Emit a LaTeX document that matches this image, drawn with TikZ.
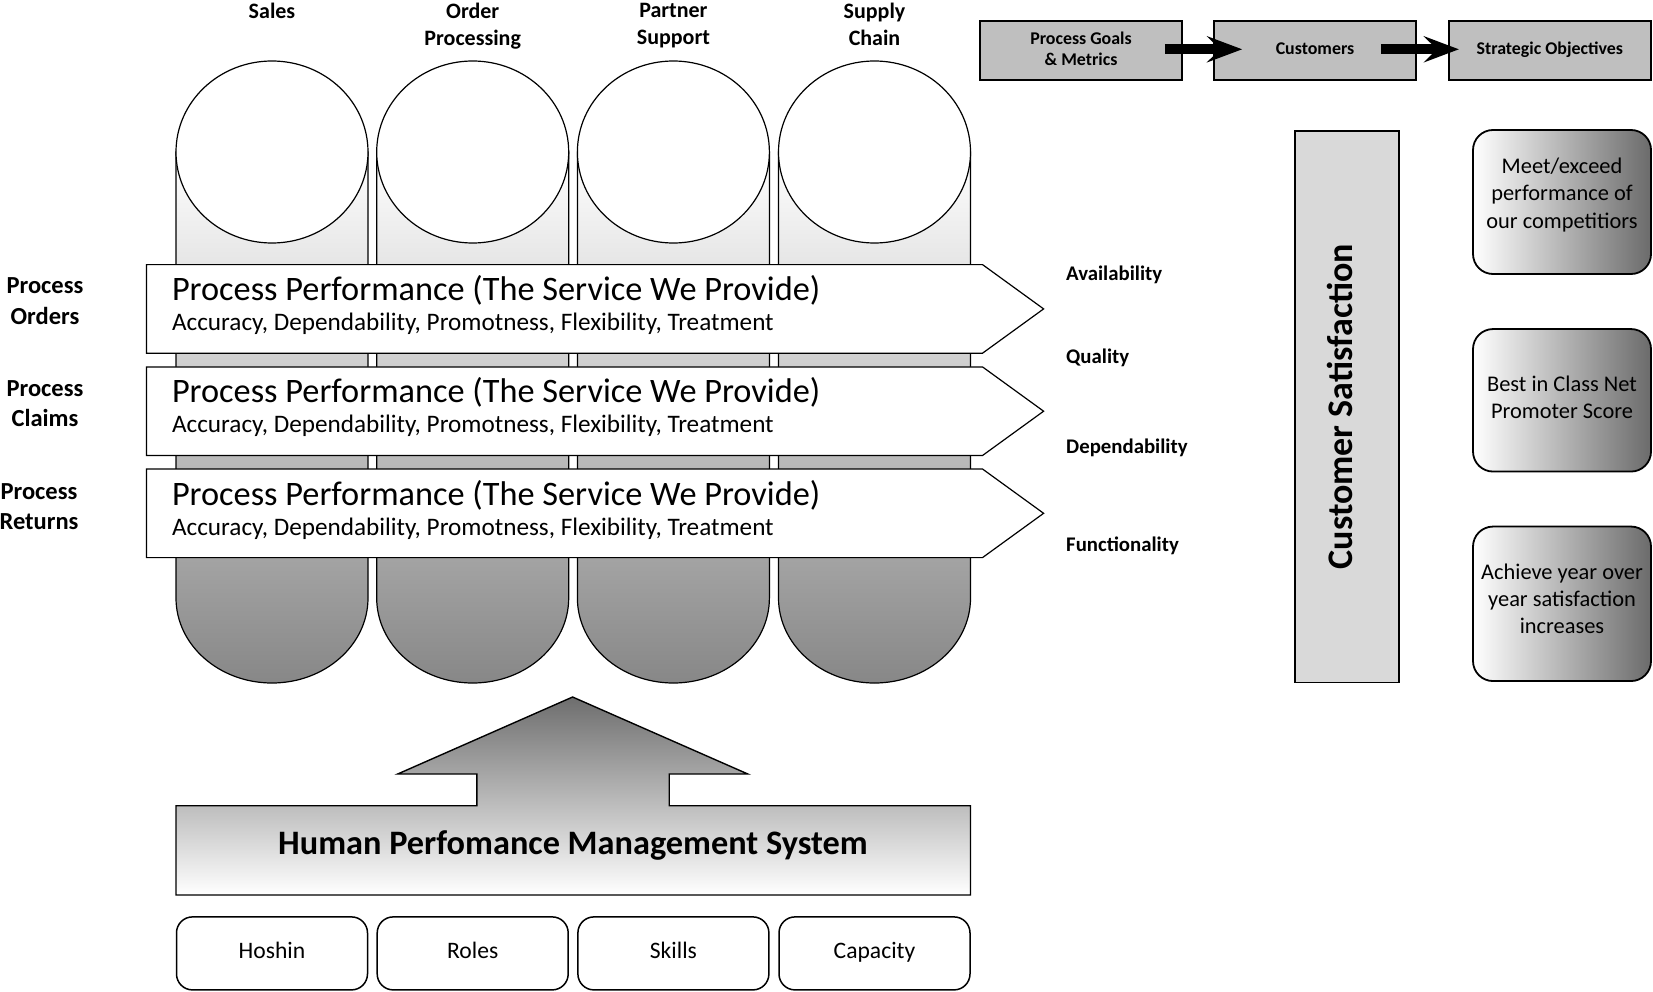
\documentclass[tikz,border=0pt]{standalone}
\usepackage{fontspec}
\setmainfont{Carlito}
\usetikzlibrary{arrows.meta,calc,positioning,shapes.geometric}
\newcommand\fsz[2]{\fontsize{#1}{#2}\selectfont}
\tikzset{>=Stealth,x=1pt,y=-1pt,
  colhead/.style={font=\fsz{22}{27}\bfseries,align=center,anchor=north,inner sep=0},
  rowhead/.style={font=\fsz{24.5}{30.5}\bfseries,align=center,anchor=north,inner sep=0},
  dimlbl/.style={font=\fsz{20.8}{24}\bfseries,anchor=base west,inner sep=0},
  pillar/.style={draw,line width=1.2pt,top color=white,bottom color=black!47},
  pillarcap/.style={ellipse,draw,line width=1.2pt,fill=white,minimum width=192,minimum height=182,inner sep=0},
  perf/.style={draw,line width=1.2pt,fill=white},
  perftitle/.style={font=\fsz{34.3}{40},anchor=base west,inner sep=0},
  perfsub/.style={font=\fsz{25.2}{30},anchor=base west,inner sep=0},
  goalbox/.style={draw,line width=1.8pt,fill=black!25,minimum width=202,minimum height=59,inner sep=0,align=center,font=\fsz{17.9}{21}\bfseries},
  block/.style={line width=10pt,-{Stealth[length=35pt,width=26pt,inset=13pt]}},
  objbox/.style={draw,line width=1.8pt,rounded corners=20,left color=white,right color=black!58,minimum width=178,align=center,font=\fsz{22.4}{27.4}},
  basebox/.style={draw,line width=1.5pt,rounded corners=16,fill=white,minimum width=191,minimum height=73,text depth=6pt,font=\fsz{23.6}{28}}}
\begin{document}
\begin{tikzpicture}
\useasboundingbox (0,0) rectangle (1653,992);
% pillars with caps and headers
\foreach \x/\n/\t in {272/sales/Sales,472.7/order/{Order\\Processing},673.4/partner/{Partner\\Support},874.5/supply/{Supply\\Chain}}{
  \draw[pillar] (\x-96,152) -- (\x-96,598) arc[start angle=180,end angle=360,x radius=96pt,y radius=85pt] -- (\x+96,152) -- cycle;
  \node[pillarcap] (cap-\n) at (\x,152) {};
  \node[colhead] (hd-\n) at (\x,3) {\t};}
% process performance arrows
\foreach \y/\n in {264.6/orders,366.9/claims,469/returns}{
  \draw[perf] (146.5,\y) -- (982.5,\y) -- (1043.6,\y+44.3) -- (982.5,\y+88.6) -- (146.5,\y+88.6) -- cycle;
  \node[perftitle] (pt-\n) at (171.8,\y+36) {Process Performance (The Service We Provide)};
  \node[perfsub] (ps-\n) at (171.8,\y+66) {Accuracy, Dependability, Promotness, Flexibility, Treatment};}
\node[rowhead] (rh-orders) at (45,277.5) {Process\\Orders};
\node[rowhead] (rh-claims) at (45,380) {Process\\Claims};
\node[rowhead] (rh-returns) at (39,483) {Process\\Returns};
\node[dimlbl] (avail) at (1066,280.7) {Availability};
\node[dimlbl] (qual) at (1066,363) {Quality};
\node[dimlbl] (depend) at (1066,453) {Dependability};
\node[dimlbl] (funct) at (1066,551.7) {Functionality};
% goals chain
\node[goalbox,text depth=4pt] (goals) at (1081,50.3) {Process Goals\\\& Metrics};
\node[goalbox,text depth=3pt] (cust) at (1315,50.3) {Customers};
\node[goalbox,text depth=4pt] (strat) at (1549.8,50.3) {Strategic Objectives};
\draw[block] ([xshift=-18,yshift=1]goals.east) -- ([xshift=29,yshift=1]cust.west);
\draw[block] ([xshift=-36,yshift=1]cust.east) -- ([xshift=11,yshift=1]strat.west);
\node[draw,line width=1.8pt,fill=black!15,rotate=90,minimum width=551.7,minimum height=104.4,text depth=14pt,font=\fsz{36}{40}\bfseries] (csat) at (1346.8,406.7) {Customer Satisfaction};
\node[objbox,minimum height=144,text depth=18pt] (obj1) at (1562,202) {Meet/exceed\\performance of\\our competitiors};
\node[objbox,minimum height=142.5,text depth=6pt] (obj2) at (1562,400.3) {Best in Class Net\\Promoter Score};
\node[objbox,minimum height=154.5,text depth=10pt] (obj3) at (1562,603.8) {Achieve year over\\year satisfaction\\increases};
% human performance base
\draw[line width=1.4pt,top color=black!57,bottom color=white] (176,805.7) -- (476.8,805.7) -- (476.8,774) -- (397.7,774) -- (572.6,697) -- (747.8,774) -- (669.2,774) -- (669.2,805.7) -- (970.5,805.7) -- (970.5,895) -- (176,895) -- cycle;
\node[font=\fsz{34.3}{38}\bfseries,anchor=base,inner sep=0] (hpms) at (573,854) {Human Perfomance Management System};
\node[basebox] (hoshin) at (272,953.4) {Hoshin};
\node[basebox] (roles) at (472.7,953.4) {Roles};
\node[basebox] (skills) at (673.4,953.4) {Skills};
\node[basebox] (capac) at (874.5,953.4) {Capacity};
\end{tikzpicture}
\end{document}
